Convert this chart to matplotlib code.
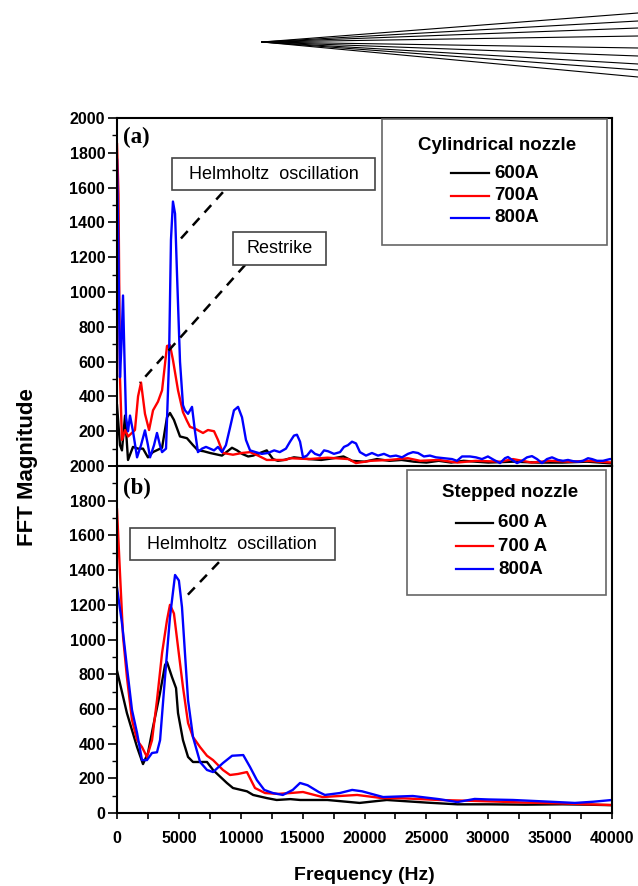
import matplotlib
matplotlib.use("Agg")
import matplotlib.pyplot as plt
from matplotlib.patches import Rectangle
from matplotlib.lines import Line2D
from matplotlib.ticker import MultipleLocator, FuncFormatter

# ---- panel (a): cylindrical nozzle ----
freq_a_600 = [0, 240, 400, 650, 890, 1290, 1700, 2100, 2500, 2900,
              3640, 4040, 4280, 4600, 5090, 5650, 6140, 6540, 7000, 7520,
              8480, 9290, 9700, 10100, 10600, 11000, 12100, 12600, 13000, 13500,
              14300, 15500, 16500, 17500, 18300, 19000, 20000, 21000, 22000, 23000,
              24000, 25000, 26000, 27000, 28000, 30000, 32000, 34000, 36000, 38000,
              40000]
mag_a_600 = [350, 120, 90, 290, 35, 110, 100, 100, 50, 80,
             105, 280, 305, 265, 170, 160, 120, 90, 85, 75,
             60, 105, 90, 70, 55, 60, 90, 40, 30, 35,
             50, 40, 35, 45, 55, 30, 25, 40, 30, 35,
             25, 20, 30, 20, 30, 20, 25, 20, 20, 25,
             15]

freq_a_700 = [0, 120, 240, 400, 650, 900, 1450, 1700, 1940, 2260,
              2590, 2910, 3310, 3640, 4040, 4280, 4520, 4930, 5330, 5650,
              5900, 6300, 6950, 7350, 7840, 8160, 8560, 9370, 10100, 10750,
              11400, 12100, 13600, 14000, 15500, 17000, 18700, 19300, 20500, 22000,
              23500, 24500, 26000, 27500, 29000, 31000, 32000, 33500, 35000, 36500,
              38000, 40000]
mag_a_700 = [1850, 1560, 510, 150, 207, 170, 207, 400, 480, 300,
             207, 320, 370, 435, 690, 695, 610, 435, 310, 260,
             225, 215, 190, 207, 200, 150, 75, 65, 75, 80,
             60, 35, 35, 45, 40, 48, 40, 17, 30, 35,
             45, 30, 35, 20, 30, 25, 40, 20, 30, 25,
             30, 20]

freq_a_800 = [0, 120, 240, 360, 485, 610, 730, 890, 1050, 1290,
              1620, 1940, 2260, 2500, 2670, 2990, 3230, 3470, 3640, 3960,
              4200, 4360, 4520, 4690, 4850, 5090, 5330, 5490, 5740, 6060,
              6300, 6540, 6870, 7190, 7520, 7840, 8160, 8480, 8800, 9130,
              9450, 9780, 10100, 10420, 10750, 11200, 11700, 12200, 12700, 13150,
              13650, 13980, 14300, 14540, 14790, 15030, 15350, 15680, 16000, 16400,
              16730, 17050, 17530, 18020, 18340, 18660, 18990, 19310, 19630, 20120,
              20600, 21090, 21570, 22060, 22540, 23030, 23510, 23920, 24320, 24800,
              25290, 25770, 26420, 27070, 27470, 27880, 28520, 29000, 29490, 29970,
              30460, 30950, 31350, 31590, 31920, 32320, 32720, 33130, 33530, 33940,
              34340, 34740, 35150, 35630, 36040, 36440, 36850, 37250, 37650, 38060,
              38380, 38790, 39270, 39830, 40000]
mag_a_800 = [1760, 1200, 510, 700, 980, 600, 280, 200, 290, 200,
             50, 120, 205, 120, 50, 120, 190, 120, 80, 100,
             600, 1300, 1520, 1450, 1100, 600, 350, 320, 300, 340,
             200, 80, 100, 110, 100, 90, 110, 80, 120, 220,
             320, 340, 280, 150, 90, 80, 70, 75, 90, 80,
             100, 140, 175, 180, 140, 50, 60, 90, 70, 60,
             90, 85, 70, 80, 110, 120, 140, 130, 80, 60,
             75, 60, 70, 55, 60, 50, 70, 80, 75, 55,
             60, 50, 45, 40, 30, 55, 55, 50, 40, 55,
             35, 17, 45, 52, 35, 17, 30, 50, 57, 40,
             17, 40, 50, 35, 30, 35, 28, 25, 30, 45,
             40, 30, 30, 40, 40]

# ---- panel (b): stepped nozzle ----
freq_b_600 = [0, 800, 1620, 2100, 2500, 2910, 3470, 3880, 4040, 4440,
              4770, 4930, 5330, 5740, 6140, 7270, 7760, 8880, 9370, 10500,
              11000, 12100, 12900, 14000, 14800, 17000, 19600, 20500, 21800, 25000,
              27500, 30000, 33000, 36000, 38000, 40000]
mag_b_600 = [820, 576, 380, 282, 345, 496, 690, 853, 870, 784,
             720, 576, 420, 323, 294, 294, 248, 173, 144, 125,
             104, 86, 75, 80, 75, 75, 58, 65, 75, 60,
             50, 50, 48, 50, 48, 45]

freq_b_700 = [0, 240, 490, 800, 1210, 1620, 2020, 2420, 2830, 3230,
              3640, 4040, 4280, 4600, 4930, 5330, 5740, 6140, 6710, 7270,
              7760, 8560, 9130, 9780, 10500, 10900, 11150, 11960, 13000, 14000,
              15030, 16600, 19400, 21400, 23000, 26000, 28700, 31000, 33000, 36000,
              38000, 40000]
mag_b_700 = [1750, 1383, 1015, 784, 536, 420, 380, 323, 420, 650,
             922, 1112, 1200, 1150, 957, 726, 519, 438, 380, 330,
             305, 248, 219, 225, 236, 179, 144, 115, 110, 115,
             121, 92, 104, 86, 85, 75, 70, 65, 60, 55,
             50, 46]

freq_b_800 = [0, 400, 800, 1210, 1620, 2020, 2420, 2830, 3230, 3480,
              3880, 4280, 4690, 5000, 5250, 5490, 5740, 6140, 6710, 7270,
              7760, 8560, 9300, 10200, 10750, 11300, 11900, 12600, 13400,
              14200, 14790, 15400, 16300, 16800, 18000, 19000, 19800, 21500, 23900,
              26000, 27500, 28900, 30000, 32000, 35000, 37000, 38500, 40000]
mag_b_800 = [1300, 1095, 842, 594, 461, 305, 305, 346, 350, 420,
             784, 1130, 1372, 1340, 1187, 922, 651, 438, 294, 248,
             236, 288, 330, 334, 265, 190, 133, 115, 104,
             133, 173, 160, 121, 104, 115, 133, 125, 92, 98,
             80, 63, 81, 78, 75, 65, 58, 65, 75]

labels_a = ["600A", "700A", "800A"]
labels_b = ["600 A", "700 A", "800A"]
colors = ["black", "#ff0000", "#0000ff"]

plt.rcParams["font.family"] = ["Liberation Sans", "DejaVu Sans"]

fig = plt.figure(figsize=(6.38, 8.86), dpi=100)
ax_a = fig.add_axes([0.1834, 0.4740, 0.7759, 0.3928])
ax_b = fig.add_axes([0.1834, 0.0824, 0.7759, 0.3916])


def style_axis(ax):
    ax.set_xlim(0, 40000)
    ax.set_ylim(0, 2000)
    ax.xaxis.set_major_locator(MultipleLocator(5000))
    ax.xaxis.set_minor_locator(MultipleLocator(2500))
    ax.yaxis.set_major_locator(MultipleLocator(200))
    ax.yaxis.set_minor_locator(MultipleLocator(100))
    ax.tick_params(axis="y", which="major", direction="out", length=6.5, width=1.2,
                   labelsize=11.5, pad=2)
    ax.tick_params(axis="y", which="minor", direction="out", length=3.5, width=1.0)
    ax.tick_params(axis="x", which="both", direction="out", length=4.3, width=1.2,
                   labelsize=11.5, pad=9)
    for lab in ax.get_xticklabels() + ax.get_yticklabels():
        lab.set_fontweight("bold")
    for s in ax.spines.values():
        s.set_linewidth(1.5)


def note_box(ax, x0, y0, x1, y1, text):
    ax.add_patch(Rectangle((x0, y0), x1 - x0, y1 - y0, transform=ax.transAxes,
                           facecolor="white", edgecolor="#444444", lw=1.2, zorder=5))
    ax.text((x0 + x1) / 2, (y0 + y1) / 2, text, transform=ax.transAxes,
            ha="center", va="center", fontsize=13, zorder=6)


def leader(ax, p0, p1):
    ax.plot([p0[0], p1[0]], [p0[1], p1[1]], transform=ax.transAxes,
            color="black", lw=1.8, ls=(0, (4, 3)), zorder=4)


def legend_box(ax, box, title, title_xy, line_x, rows, text_x, labels):
    x0, y0, x1, y1 = box
    ax.add_patch(Rectangle((x0, y0), x1 - x0, y1 - y0, transform=ax.transAxes,
                           facecolor="white", edgecolor="#666666", lw=1.2, zorder=5))
    ax.text(title_xy[0], title_xy[1], title, transform=ax.transAxes, ha="center",
            va="center", fontsize=13.5, fontweight="bold", zorder=6)
    for yy, c, lab in zip(rows, colors, labels):
        ax.add_line(Line2D(line_x, [yy, yy], transform=ax.transAxes, color=c,
                           lw=1.6, zorder=6))
        ax.text(text_x, yy, lab, transform=ax.transAxes, ha="left", va="center",
                fontsize=13.5, fontweight="bold", zorder=6)


# panel (a)
for f, m, c in zip([freq_a_600, freq_a_700, freq_a_800],
                   [mag_a_600, mag_a_700, mag_a_800], colors):
    ax_a.plot(f, m, color=c, lw=1.7)
style_axis(ax_a)
ax_a.tick_params(axis="x", labelbottom=False)
ax_a.yaxis.set_major_formatter(FuncFormatter(lambda v, p: "" if v == 0 else f"{v:.0f}"))
for lab in ax_a.get_yticklabels():
    lab.set_fontweight("bold")

ax_a.text(0.012, 0.945, "(a)", transform=ax_a.transAxes, ha="left", va="center",
          fontsize=16.5, fontweight="bold", family="Liberation Serif")
note_box(ax_a, 0.111, 0.793, 0.521, 0.885, "Helmholtz  oscillation")
note_box(ax_a, 0.234, 0.578, 0.422, 0.672, "Restrike")
leader(ax_a, (0.214, 0.787), (0.121, 0.641))
leader(ax_a, (0.259, 0.578), (0.046, 0.239))
legend_box(ax_a, (0.535, 0.635, 0.990, 0.997), "Cylindrical nozzle", (0.768, 0.920),
           [0.675, 0.752], [0.842, 0.776, 0.713], 0.762, labels_a)

# panel (b)
for f, m, c in zip([freq_b_600, freq_b_700, freq_b_800],
                   [mag_b_600, mag_b_700, mag_b_800], colors):
    ax_b.plot(f, m, color=c, lw=1.7)
style_axis(ax_b)

ax_b.text(0.012, 0.935, "(b)", transform=ax_b.transAxes, ha="left", va="center",
          fontsize=16.5, fontweight="bold", family="Liberation Serif")
note_box(ax_b, 0.026, 0.729, 0.440, 0.821, "Helmholtz  oscillation")
leader(ax_b, (0.206, 0.723), (0.133, 0.614))
legend_box(ax_b, (0.586, 0.628, 0.988, 0.988), "Stepped nozzle", (0.794, 0.925),
           [0.685, 0.760], [0.836, 0.769, 0.703], 0.770, labels_b)

fig.text(28 / 638, 1 - 467 / 886, "FFT Magnitude", rotation=90, ha="center",
         va="center", fontsize=16, fontweight="bold")
fig.text(364 / 638, 1 - 876 / 886, "Frequency (Hz)", ha="center", va="center",
         fontsize=14, fontweight="bold")

# stray fan of lines at the top of the original scan
for yy in [13, 21, 28, 36, 48, 56, 64, 70, 77]:
    fig.add_artist(Line2D([262 / 638, 1.0], [1 - 42 / 886, 1 - yy / 886],
                          color="black", lw=0.8))

fig.savefig("out.png", dpi=100)
